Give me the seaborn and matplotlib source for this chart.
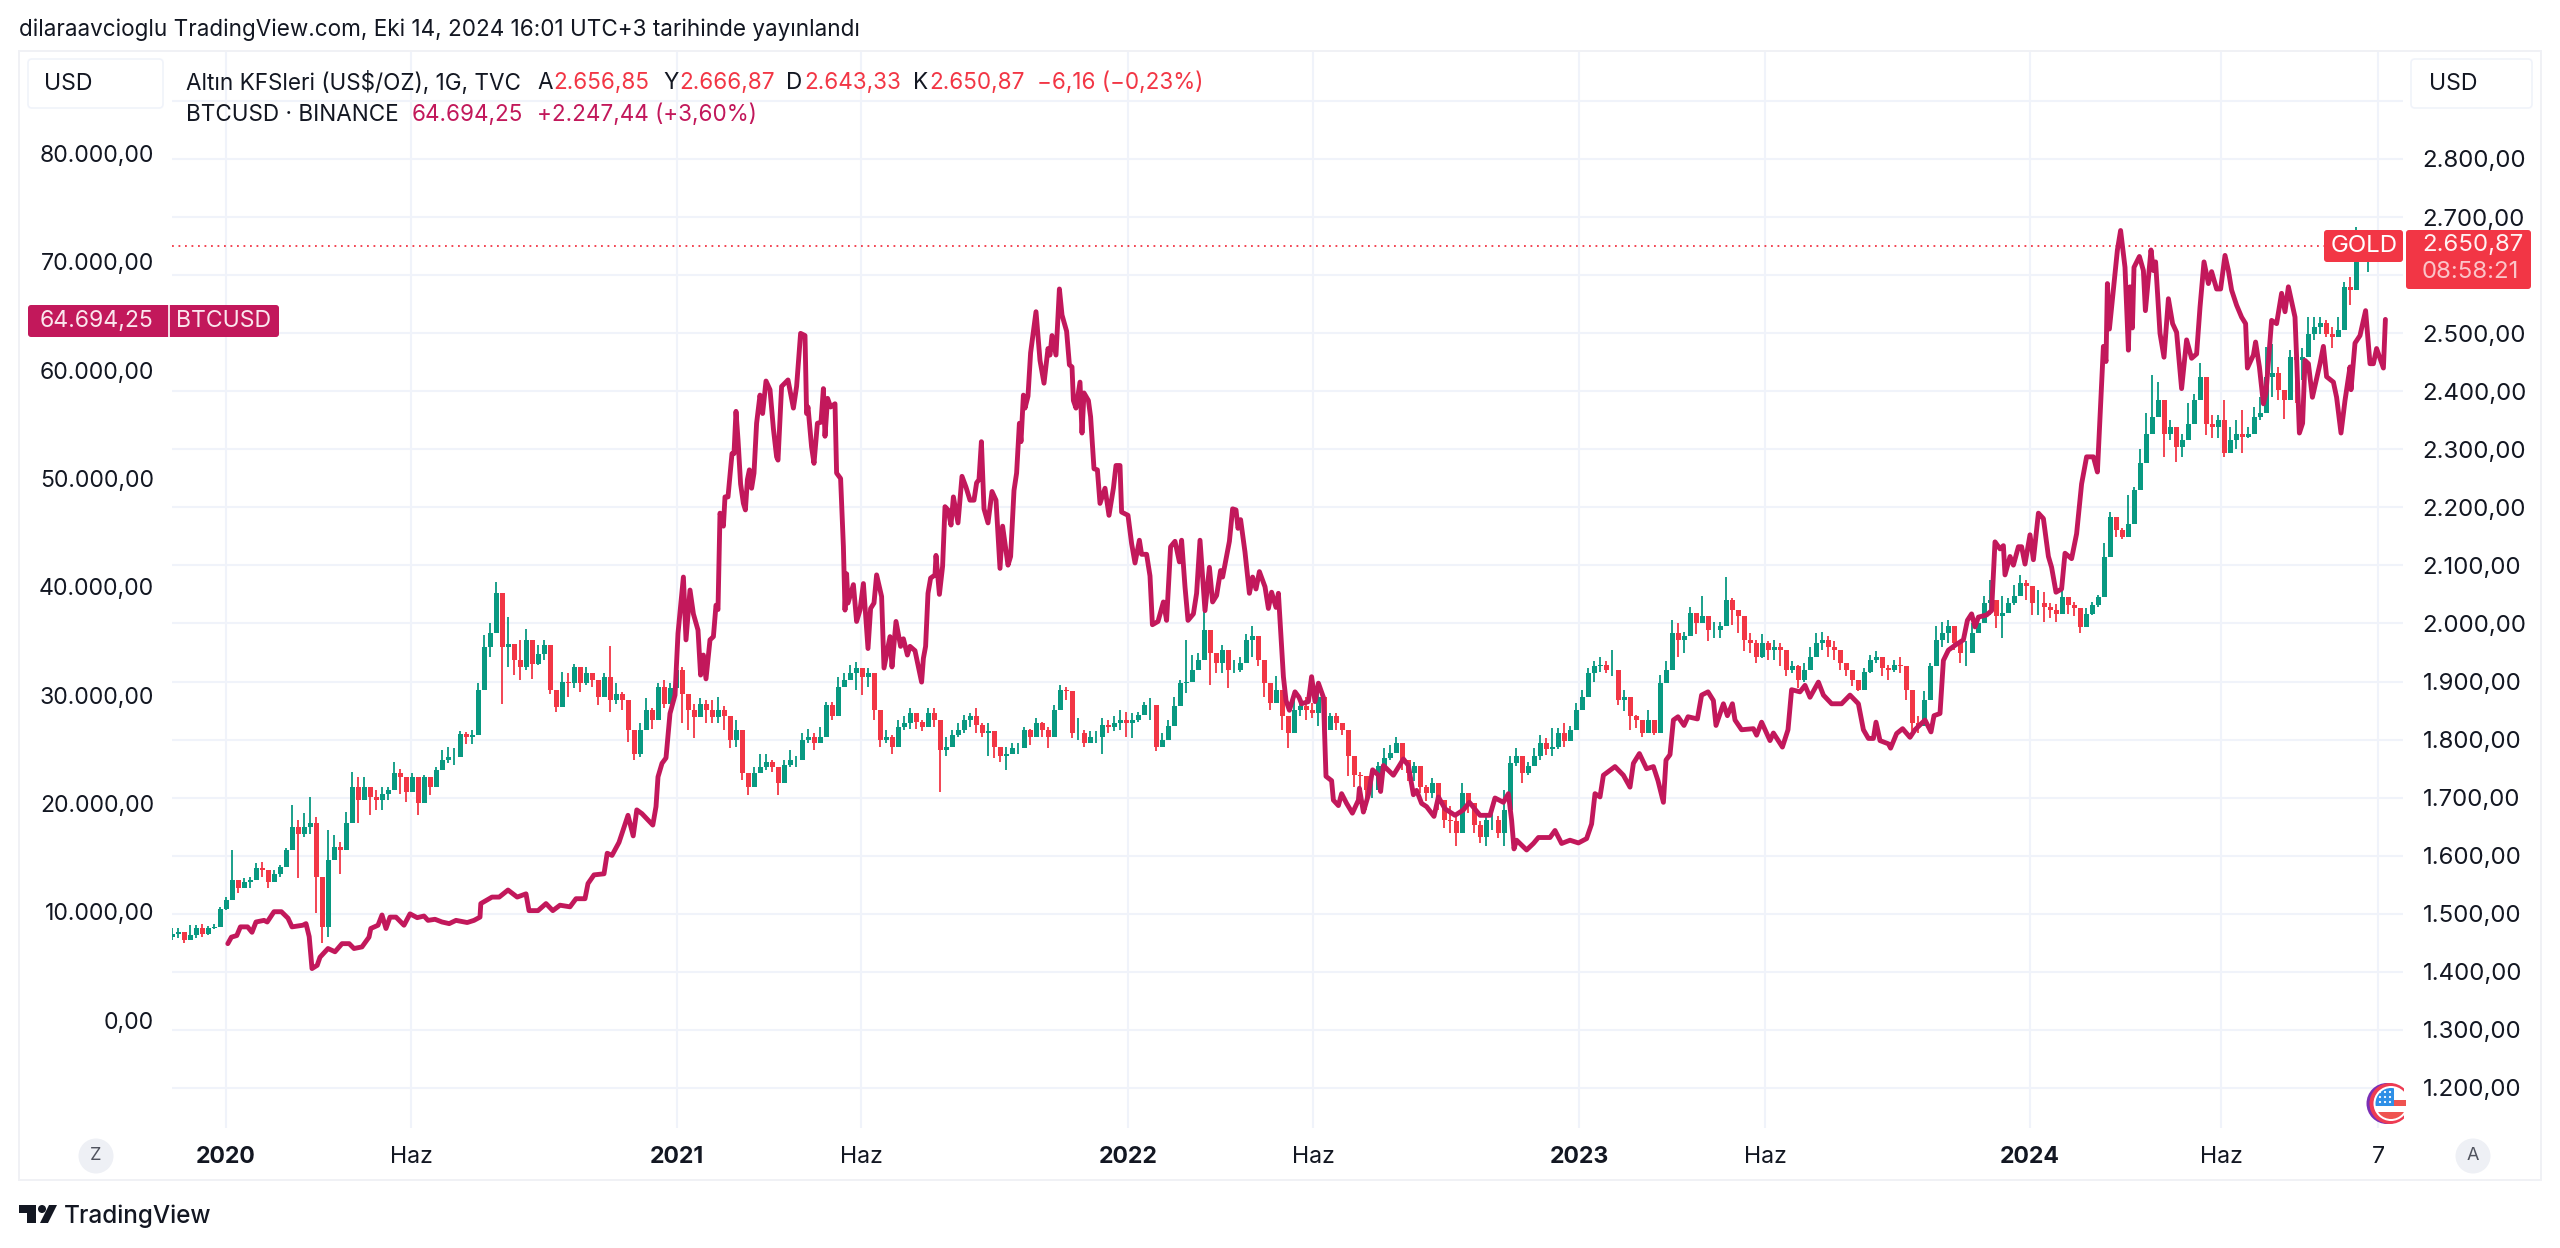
import numpy as np
import pandas as pd
import matplotlib
matplotlib.use("Agg")
import matplotlib.pyplot as plt
from matplotlib.patches import Rectangle, FancyBboxPatch, Circle, Polygon
import seaborn as sns

# ---------- data (x = position on the bar scale of the time axis) ----------
gold_start = -27
gold_step = 3
gold_open_first = 1460
gold_close = [
1466,1469,1455,1463,1475,1466,1475,1478,1509,1524,1558,1544,1555,1558,1578,1575,1555,1569,1581,1610,1650,1638,1650,1656,1564,1478,1592,1615,1610,1656,1719,1696,1719,1701,1696,1707,1713,1742,1736,1710,1736,1690,1736,1719,1747,1765,1770,1770,1810,1805,1808,1885,1960,1983,2052,1960,1965,1937,1925,1971,1931,1948,1963,1885,1856,1899,1897,1925,1897,1914,1902,1874,1908,1868,1879,1868,1816,1776,1816,1851,1833,1891,1862,1888,1920,1879,1851,1839,1862,1851,1839,
1851,1840,1799,1817,1742,1719,1742,1753,1762,1753,1725,1756,1765,1765,1799,1805,1794,1805,1860,1840,1891,1903,1914,1923,1908,1914,1851,1799,1805,1788,1822,1828,1845,1831,1822,1845,1834,1782,1788,1808,1817,1834,1840,1825,1811,1814,1788,1771,1776,1785,1785,1817,1805,1828,1817,1805,1851,1885,1883,1811,1811,1794,1805,1805,1825,1822,1828,1834,1828,1834,1842,1860,1860,
1788,1800,1823,1857,1897,1900,1920,1937,1989,1949,1932,1955,1920,1920,1932,1972,1978,1937,1897,1863,1886,1840,1811,1851,1857,1851,1846,1874,1817,1840,1828,1817,1771,1739,1737,1714,1714,1754,1768,1777,1794,1765,1742,1754,1719,1708,1725,1696,1662,1659,1639,1708,1691,1653,1633,1662,1662,1639,1679,1760,1771,1742,1754,1771,1794,1783,1788,1811,1797,1817,1851,1874,1915,1926,1929,1920,1920,1869,1874,1840,1834,1811,
1834,1811,1897,1920,1983,1972,1978,2018,2001,2012,1989,1989,1995,2041,2024,2012,1972,1966,1943,1966,1955,1960,1955,1920,1926,1903,1920,1943,1966,1972,1960,1955,1932,1920,1903,1886,1917,1937,1943,1923,1920,1929,1926,1886,1828,1823,1869,1926,1972,1983,1995,1966,1949,1949,1983,2001,2035,2041,2012,2018,2035,2047,2070,2064,2035,2035,2029,2024,
2017,2046,2032,2026,1994,2017,2032,2046,2115,2184,2161,2149,2172,2230,2276,2327,2356,2385,2327,2339,2304,2316,2344,2385,2425,2344,2339,2350,2293,2316,2327,2321,2327,2356,2362,2425,2431,2402,2385,2459,2453,2459,2499,2511,2517,2499,2494,2505,2580,2574,2643,2654,2657,2651]
gold_high = [
1475,1475,1460,1480,1480,1483,1479,1482,1512,1529,1610,1558,1561,1564,1587,1590,1564,1575,1584,1613,1687,1661,1673,1701,1667,1547,1644,1635,1624,1676,1745,1736,1736,1719,1713,1719,1719,1762,1750,1724,1742,1724,1739,1730,1753,1782,1788,1785,1815,1813,1816,1897,1980,2000,2072,2029,2011,1960,1971,1991,1948,1963,1971,1957,1874,1917,1914,1931,1914,1925,1911,1897,1914,1961,1897,1882,1839,1810,1828,1871,1854,1897,1902,1897,1948,1925,1859,1862,1871,1868,1868,
1874,1857,1822,1834,1765,1736,1753,1776,1776,1765,1742,1765,1782,1771,1811,1819,1811,1822,1865,1865,1908,1914,1929,1934,1923,1923,1880,1814,1817,1808,1834,1840,1854,1845,1834,1854,1854,1825,1805,1817,1828,1842,1845,1854,1828,1828,1808,1785,1788,1794,1794,1822,1819,1837,1831,1822,1860,1894,1891,1837,1837,1817,1814,1814,1837,1834,1840,1851,1848,1845,1848,1865,1871,
1805,1811,1834,1874,1903,1972,1946,1949,2067,1978,1946,1963,1949,1937,1943,1981,1995,1955,1917,1892,1909,1874,1826,1869,1869,1874,1863,1880,1846,1846,1846,1828,1811,1754,1745,1737,1737,1762,1785,1791,1805,1780,1760,1762,1739,1722,1734,1714,1685,1685,1668,1725,1708,1679,1659,1671,1671,1668,1714,1771,1785,1754,1762,1785,1808,1803,1820,1820,1828,1823,1863,1886,1923,1935,1943,1935,1955,1889,1886,1846,1843,1823,
1851,1834,1912,1935,2006,2001,1986,2029,2015,2047,2012,2003,2003,2080,2044,2021,1983,1983,1972,1981,1969,1972,1966,1935,1935,1929,1932,1960,1983,1986,1978,1969,1946,1932,1917,1903,1923,1946,1952,1932,1929,1937,1943,1909,1857,1840,1883,1932,1995,2003,2006,1989,1972,1969,2001,2015,2047,2075,2035,2047,2044,2067,2084,2075,2047,2058,2055,2035,
2034,2060,2043,2037,2009,2026,2037,2049,2138,2192,2175,2164,2221,2235,2301,2362,2428,2416,2385,2350,2327,2327,2379,2396,2448,2356,2359,2359,2385,2339,2350,2367,2339,2373,2390,2476,2482,2442,2402,2471,2465,2474,2528,2528,2528,2522,2511,2528,2588,2597,2683,2677,2670,2667]
gold_low = [
1455,1458,1449,1455,1458,1460,1463,1473,1492,1506,1538,1535,1544,1544,1558,1564,1544,1558,1564,1581,1621,1561,1633,1638,1501,1449,1460,1598,1569,1638,1667,1656,1696,1670,1678,1678,1696,1724,1707,1693,1719,1670,1690,1704,1719,1747,1759,1756,1790,1793,1793,1851,1902,1943,2000,1862,1925,1911,1902,1920,1905,1928,1937,1879,1848,1862,1874,1888,1882,1894,1891,1859,1879,1848,1862,1851,1796,1765,1770,1822,1819,1856,1854,1868,1879,1828,1816,1802,1839,1828,1828,
1828,1817,1785,1788,1730,1705,1725,1742,1748,1745,1705,1748,1753,1753,1785,1794,1782,1794,1840,1834,1874,1891,1903,1885,1877,1891,1834,1788,1794,1776,1805,1817,1819,1819,1814,1828,1822,1710,1771,1799,1805,1811,1822,1811,1805,1771,1768,1762,1748,1776,1776,1788,1791,1811,1805,1785,1822,1862,1868,1802,1799,1788,1794,1794,1776,1811,1814,1817,1805,1802,1831,1845,1834,
1780,1788,1811,1846,1874,1880,1903,1920,1972,1894,1915,1915,1889,1915,1917,1949,1943,1926,1874,1851,1863,1817,1785,1834,1840,1834,1837,1823,1805,1823,1817,1808,1737,1719,1702,1679,1699,1737,1748,1765,1783,1748,1728,1728,1708,1694,1699,1679,1648,1639,1616,1679,1673,1639,1622,1616,1645,1630,1616,1731,1754,1725,1739,1754,1765,1774,1771,1783,1788,1800,1834,1857,1892,1900,1917,1915,1909,1860,1849,1817,1820,1805,
1814,1808,1846,1897,1932,1943,1949,1978,1981,2001,1969,1975,1975,2001,1998,1983,1952,1949,1932,1940,1937,1937,1926,1909,1915,1889,1900,1926,1946,1955,1943,1937,1920,1909,1892,1883,1897,1915,1932,1909,1903,1917,1915,1869,1814,1811,1846,1909,1949,1960,1966,1955,1932,1926,1966,1983,2015,2015,1992,1975,2018,2032,2049,2041,2015,2015,2003,2009,
2003,2026,2017,2012,1984,2009,2014,2029,2080,2155,2149,2146,2161,2178,2267,2301,2327,2356,2287,2316,2278,2287,2327,2356,2385,2324,2319,2319,2287,2296,2301,2293,2319,2327,2350,2385,2390,2385,2353,2408,2379,2419,2465,2488,2499,2494,2474,2499,2557,2548,2620,2643,2606,2643]

btc_x = [
0.9,2.7,5.4,7.2,10.8,13,15,19,20.6,24,27.7,31,33,38.4,40,41.6,43,45.6,47,51,54.5,58,61.6,64,68,71.5,72.4,76,78,80,82,85,89,92,95.6,99,101,104.5,108,111.6,115,120.6,124,127,127.4,133,136.6,141,145.6,150,151.5,156,160,163.4,167,172,175,179.5,181,184,189,190.6,193,196.5,199,201,203.6,205.4,208,213.4,215,216,218,220,222,224.5,
226,228.7,230,232,233.7,236,237.3,238.7,240,242,243.7,245,246,247,248.7,249.5,251,253,254,255,256,257.3,258.7,259.7,260.7,261.7,262.8,264,265.3,267,268.3,270,272,273.7,275.3,276,277.8,281,283.7,285.3,287.3,289.5,290.3,291,292.8,294,295.7,297.5,298.7,299.5,300.8,302.3,304.5,305.3,307.3,308.7,309.5,310.3,311,313.7,315.3,317,318.7,321,322.3,324,325.3,327.8,329,332,333,335,337.3,338.7,340.7,342,344.5,347.8,348.7,349.8,351,352.3,354.5,355,356.7,358.3,359.5,361,362.5,363.7,366,368,370,372,374,375.3,376.5,377.7,379,381,383,385,387,388.3,391,392.3,394,395.3,396.7,397.5,398.7,399.5,401,402.3,405,407,409,411,412,413,415,416.7,418,420.3,421.7,423,423.7,425,427,428,429,431.2,432.3,434,435.7,437,439.5,441.5,443.7,445,447,447.8,451,452.8,454.5,456.7,457.8,460.3,462,
463.2,466,468.7,470.3,472.3,474.5,476.7,477.8,479.5,481,483.7,485.3,487,489.5,491.7,493.3,495.3,497.3,498.3,501.7,503.3,505,506,507.3,509.5,511.7,513.3,515,516.7,519.5,521.2,522.8,525,526.2,527.3,528.7,530,531.7,534.5,536.5,537.8,541.2,542.8,544.5,546.2,548.7,550,552.8,553.7,556.2,557.8,560.3,563.2,566.2,566.7,568.7,571.2,573.3,576.2,577.3,578.7,583.7,588.7,591.2,593.7,595.3,597.8,600.3,604,606.2,609.5,614.5,618.7,621.7,627,632,634.5,638.7,641.2,642.8,644,645.3,650.3,653.7,656.2,662,664.5,667.8,672,676.2,680.3,682.8,684.5,687,688.7,694.5,698.7,702,703.7,706.7,710.3,
713.7,716,718.7,720,722,723.7,726,729,731,735.7,737.8,741,743.7,745,748.7,750.7,753.2,754.5,757.8,763.7,765.3,767.8,772,773.7,778.2,781,782.8,787,789.5,792,796.2,798.7,802.8,807.8,812,816.2,818.7,821.2,823.7,825,827,831.2,832.3,835.3,838.3,842,844.5,849.5,852.5,854,857,858.7,861.2,864.5,868.7,870.7,872.8,874.5,876.2,880.3,882.8,
884.5,887,888.7,889.5,892,893.7,896.2,897.8,899.5,902,903.7,906.2,908.7,911.2,912.8,915,917.8,919.5,922.8,925.3,927.8,930.3,933.7,935.7,938.7,940,940.7,941.7,943.7,945.7,947.3,949.5,951.2,952,953.2,954,956.7,958.7,959.7,960.8,962.5,963.7,964.8,967,969,971.2,973.3,975.3,977.8,980.3,982.8,985.3,987,989,991.2,992.8,995.3,997.3,999.5,1001.2,1002.8,1005.3,1007.8,1009.8,1010.7,1013.7,1014.8,1016.7,1018.7,1020,1022.8,1025.3,1027.8,1029.5,1031.2,1034.5,1035.3,1036.7,1038.3,1039.5,1041.2,1043.2,1045.3,1047,1048.7,1050.3,1053.7,1055.3,1057.5,1059.5,1062,1062.5,1064.5,1067,1069.8,1072,1073.7,1075.3,1078.7,1079.7]
btc_thousands = [
7.05,7.65,7.8,8.6,8.6,8.1,9.05,9.2,9.05,10.0,10.0,9.4,8.6,8.75,8.9,7.7,4.75,5.05,5.8,6.6,6.3,7.05,7.05,6.6,6.75,7.65,8.45,8.75,9.7,8.45,9.5,9.5,8.75,9.8,9.45,9.6,9.2,9.3,9.05,8.9,9.2,9.0,9.2,9.5,10.75,11.35,11.35,12.0,11.35,11.65,10.1,10.1,10.75,10.1,10.6,10.45,11.2,11.2,12.6,13.4,13.5,15.4,15.2,16.4,17.8,18.9,17.0,19.4,19.05,18.0,19.7,22.45,23.7,24.2,28.3,30.0,
35.7,40.9,35.1,39.7,37.5,36.0,31.85,33.7,31.5,35.1,35.4,38.3,37.9,46.8,45.6,48.3,48.3,52.3,52.3,56.2,53.6,49.5,47.7,47.1,49.9,50.8,49.1,50.5,55.1,57.7,56.0,59.0,58.2,54.6,52.0,51.7,58.5,59.1,56.5,58.5,63.4,63.2,56.0,56.6,52.9,51.4,55.1,55.2,58.3,53.9,57.4,56.6,56.9,50.5,50.0,43.7,37.85,41.2,38.5,40.2,36.8,37.85,40.3,34.3,38.0,38.5,41.1,39.1,32.5,35.4,32.6,36.8,34.5,35.2,33.7,34.5,34.1,31.2,33.4,34.5,39.4,40.8,41.1,42.9,39.3,41.9,47.4,47.1,45.7,48.3,45.9,50.2,49.2,48.0,48.0,49.6,49.9,53.4,47.2,45.9,48.8,48.0,41.7,45.6,42.0,42.8,48.9,50.5,55.1,53.4,57.7,56.5,57.6,61.6,65.4,60.9,58.8,62.0,61.4,63.2,61.4,67.5,65.1,63.6,60.5,60.3,57.2,56.5,58.9,54.2,57.9,57.2,55.7,50.9,50.8,47.7,49.1,46.6,49.1,51.2,51.2,46.9,46.6,44.0,42.2,44.3,43.0,43.0,41.0,
36.5,36.8,38.6,36.9,43.7,44.2,42.3,44.3,40.0,36.9,37.5,39.4,44.3,37.8,41.8,38.6,39.2,41.5,40.9,44.2,47.2,47.1,45.4,46.2,43.2,39.4,40.9,39.8,41.4,40.0,38.0,39.5,38.1,39.4,36.0,31.7,29.5,28.6,30.3,29.8,29.2,29.4,31.7,29.4,31.1,29.8,22.5,22.1,20.3,19.8,20.9,20.0,19.1,20.3,21.4,19.2,20.8,23.1,22.6,21.1,23.5,22.6,24.1,23.5,20.8,21.2,20.0,19.7,18.8,20.6,19.5,18.9,19.4,20.1,18.9,18.9,20.5,20.1,20.9,18.45,15.8,16.6,15.7,16.3,16.85,16.85,17.5,16.3,16.6,16.35,16.75,18.1,20.9,20.6,22.6,23.4,22.6,21.5,23.7,24.6,23.2,
23.4,22.1,20.1,24.0,24.5,27.7,28.0,27.2,28.0,27.8,30.0,30.3,29.5,27.2,29.2,28.1,29.2,27.7,26.8,26.9,26.3,27.5,25.8,26.5,25.2,26.8,30.5,30.3,30.9,29.8,31.2,30.0,29.2,29.2,30.0,29.2,26.8,26.0,26.0,27.5,25.8,25.5,25.1,26.45,26.9,26.1,26.8,27.7,26.6,28.1,28.3,33.2,34.15,34.6,35.1,36.9,37.5,36.3,37.2,37.4,37.8,
44.15,43.5,43.8,41.1,42.8,42.0,43.7,43.7,42.1,44.8,42.5,46.8,46.3,42.8,41.8,39.5,39.8,43.1,42.6,44.9,49.5,52.0,52.0,50.6,62.2,60.8,68.0,63.8,67.4,71.1,72.9,69.5,61.85,67.7,63.9,69.5,70.5,69.2,65.5,67.7,71.1,69.2,70.0,63.4,61.2,66.6,64.3,63.5,58.3,62.8,61.1,61.5,65.8,70.0,68.0,69.1,67.5,67.5,70.6,69.2,67.4,66.0,64.9,64.3,60.2,61.4,62.6,60.3,56.9,57.9,64.6,64.3,67.1,65.4,67.7,64.9,61.2,54.2,55.1,60.9,60.6,57.5,59.2,60.6,62.2,59.4,58.9,57.5,54.2,57.2,60.3,58.2,62.5,63.2,65.5,60.6,60.6,62.0,60.2,64.69]

time_ticks = [0, 92.5, 225.5, 317.5, 451, 543.5, 676.5, 769.5, 902, 997.5, 1076]
time_labels = ["2020", "Haz", "2021", "Haz", "2022", "Haz", "2023", "Haz", "2024", "Haz", "7"]
btc_ticks = [0, 10000, 20000, 30000, 40000, 50000, 60000, 70000, 80000]
gold_grid = list(range(1200, 3000, 100))
gold_hidden = [2600, 2900]
gold_last = 2650.87
btc_last = 64694.25

# ---------- style ----------
sns.set_theme(style="white")
FONT = ["Inter", "DejaVu Sans"]
plt.rcParams["font.family"] = FONT
INK = "#131722"
GRID = "#f0f3fa"
UP, DOWN, BTC = "#089981", "#F23645", "#C2185B"
FS = 16.6
W, H = 2560, 1248

def fmt(v):
    return f"{v:,.2f}".replace(",", "#").replace(".", ",").replace("#", ".")

fig = plt.figure(figsize=(W / 100, H / 100), dpi=100, facecolor="white")
L, R, T_, B = 172, 2403, 51, 1128
ax_btc = fig.add_axes([L / W, 1 - B / H, (R - L) / W, (B - T_) / H])
ax_gold = ax_btc.twinx()
ax_btc.set_zorder(2)
ax_gold.set_zorder(1)
ax_btc.patch.set_visible(False)
ax_gold.set_facecolor("white")

# gold candles
g_close = np.array(gold_close, float)
g_x = gold_start + gold_step * np.arange(len(g_close))
g_open = np.r_[gold_open_first, g_close[:-1]]
colors = [UP if c >= o else DOWN for o, c in zip(g_open, g_close)]
ax_gold.set_axisbelow(True)
ax_gold.vlines(g_x, gold_low, gold_high, colors=colors, lw=1.3, zorder=3)
ax_gold.bar(g_x, g_close - g_open, bottom=g_open, width=2.5, color=colors, linewidth=0, zorder=3)
ax_gold.axhline(gold_last, color=DOWN, lw=1.3, ls=(0, (1, 2.6)), zorder=2)
for t in time_ticks:
    ax_gold.axvline(t, color=GRID, lw=1.5, zorder=1)

# BTC line
frame = pd.DataFrame({"bar": btc_x, "usd": np.array(btc_thousands) * 1000})
sns.lineplot(data=frame, x="bar", y="usd", ax=ax_btc, color=BTC, lw=3.5, sort=False,
             estimator=None, errorbar=None, solid_joinstyle="round")

# scales
ax_btc.set_xlim(-27, 1088.5)
ax_btc.set_ylim(-9972, 89474)
ax_gold.set_ylim(1131, 2986)
ax_btc.set_xlabel("")
ax_btc.set_ylabel("")
ax_gold.set_ylabel("")
for a in (ax_btc, ax_gold):
    for s in a.spines.values():
        s.set_visible(False)

ax_btc.set_yticks(btc_ticks)
ax_btc.set_yticklabels([fmt(v) for v in btc_ticks])
ax_btc.tick_params(axis="y", length=0, pad=13, labelsize=FS, labelcolor=INK)
ax_gold.set_yticks(gold_grid)
ax_gold.set_yticklabels(["" if v in gold_hidden else fmt(v) for v in gold_grid])
ax_gold.tick_params(axis="y", length=0, pad=14, labelsize=17.3, labelcolor=INK)
ax_gold.yaxis.grid(True, color=GRID, lw=1.5)
ax_btc.set_xticks(time_ticks)
ax_btc.set_xticklabels(time_labels)
ax_btc.tick_params(axis="x", length=0, pad=13, labelsize=FS, labelcolor=INK)
for lab in ax_btc.get_xticklabels():
    if lab.get_text().isdigit() and len(lab.get_text()) == 4:
        lab.set_fontweight("bold")

# ---------- pixel overlay for the platform's furniture ----------
ov = fig.add_axes([0, 0, 1, 1], zorder=5)
ov.set_xlim(0, W)
ov.set_ylim(H, 0)
ov.axis("off")
ov.patch.set_alpha(0)

def txt(x, y, s, color=INK, ha="left", size=FS, weight="normal", **kw):
    return ov.text(x, y, s, color=color, ha=ha, va="center", fontsize=size, fontweight=weight,
                   family=FONT, **kw)

def box(x0, y0, x1, y1, face, edge="none", r=4, lw=1.2):
    p = FancyBboxPatch((x0 + r, y0 + r), x1 - x0 - 2 * r, y1 - y0 - 2 * r,
                       boxstyle=f"round,pad={r},rounding_size={r}", fc=face, ec=edge, lw=lw)
    ov.add_patch(p)
    return p

# frame
ov.add_patch(Rectangle((19, 51), 2541 - 19, 1180 - 51, fc="none", ec="#f0f1f5", lw=1.4))

# header
txt(19, 30, "dilaraavcioglu TradingView.com, Eki 14, 2024 16:01 UTC+3 tarihinde yayınlandı", size=16.2)

# currency boxes
box(28, 59, 163, 108, "white", "#f0f3fa")
box(2411, 59, 2532, 108, "white", "#f0f3fa")
txt(44, 84, "USD")
txt(2429, 84, "USD")

# legend rows
for x, s, c in [(186, "Altın KFSleri (US$/OZ), 1G, TVC", INK), (537, "A", INK), (553, "2.656,85", DOWN),
                (663, "Y", INK), (679, "2.666,87", DOWN), (786, "D", INK), (804, "2.643,33", DOWN),
                (913, "K", INK), (929, "2.650,87", DOWN), (1037, "−6,16 (−0,23%)", DOWN)]:
    txt(x, 83, s, c, size=16.2)
for x, s, c in [(186, "BTCUSD · BINANCE", INK), (412, "64.694,25", BTC), (537, "+2.247,44 (+3,60%)", BTC)]:
    txt(x, 115, s, c, size=16.2)

# price labels
box(28, 305, 279, 337, BTC, r=3)
ov.plot([169, 169], [305, 337], color="white", lw=1.2)
txt(153, 321, fmt(btc_last), "#fbe6ee", ha="right")
txt(224, 321, "BTCUSD", "#fbe6ee", ha="center")
box(2324, 230, 2403, 262, DOWN, r=3)
txt(2364, 246, "GOLD", "white", ha="center", size=17.3)
box(2406, 230, 2531, 289, DOWN, r=3)
txt(2422, 245, fmt(gold_last), "#fff1f2", size=17.3)
txt(2422, 272, "08:58:21", "#fbc4c8", size=17.3)

# axis mode badges
for x, s in [(96, "Z"), (2473, "A")]:
    ov.add_patch(Circle((x, 1156), 17.5, fc="#eef0f5", ec="none"))
    txt(x, 1156, s, "#50535e", ha="center", size=13)

# flag icon
cut = Rectangle((2340, 1070), 64, 70, transform=ov.transData)
for c, cx, r in [("#7b2fb5", 2387, 20.5), ("#ee3b52", 2390, 20.5), ("white", 2391, 17.5)]:
    p = Circle((cx, 1103.5), r, fc=c, ec="none")
    ov.add_patch(p)
    p.set_clip_path(cut)
disc = Circle((2391, 1103.5), 15.5, transform=ov.transData)
for (x, y, w, h, c) in [(2394, 1100, 12, 6, "#ef5350"), (2372, 1112, 34, 8, "#ef5350"), (2375, 1088, 19, 18, "#2e8fe6")]:
    p = Rectangle((x, y), w, h, fc=c, ec="none")
    ov.add_patch(p)
    p.set_clip_path(disc)
for yy in (1092, 1097, 1102):
    for xx in (2380, 2385, 2390):
        ov.add_patch(Circle((xx, yy), 1.1, fc="white", ec="none"))

# brand
ov.add_patch(Polygon([(19, 1205), (36, 1205), (36, 1223), (27, 1223), (27, 1213), (19, 1213)], fc=INK, ec="none"))
ov.add_patch(Circle((42, 1209), 4, fc=INK, ec="none"))
ov.add_patch(Polygon([(49, 1205), (57, 1205), (48, 1223), (40, 1223)], fc=INK, ec="none"))
txt(64, 1216, "TradingView", size=17.5, weight="medium")

fig.savefig("out.png", dpi=100, facecolor="white")
